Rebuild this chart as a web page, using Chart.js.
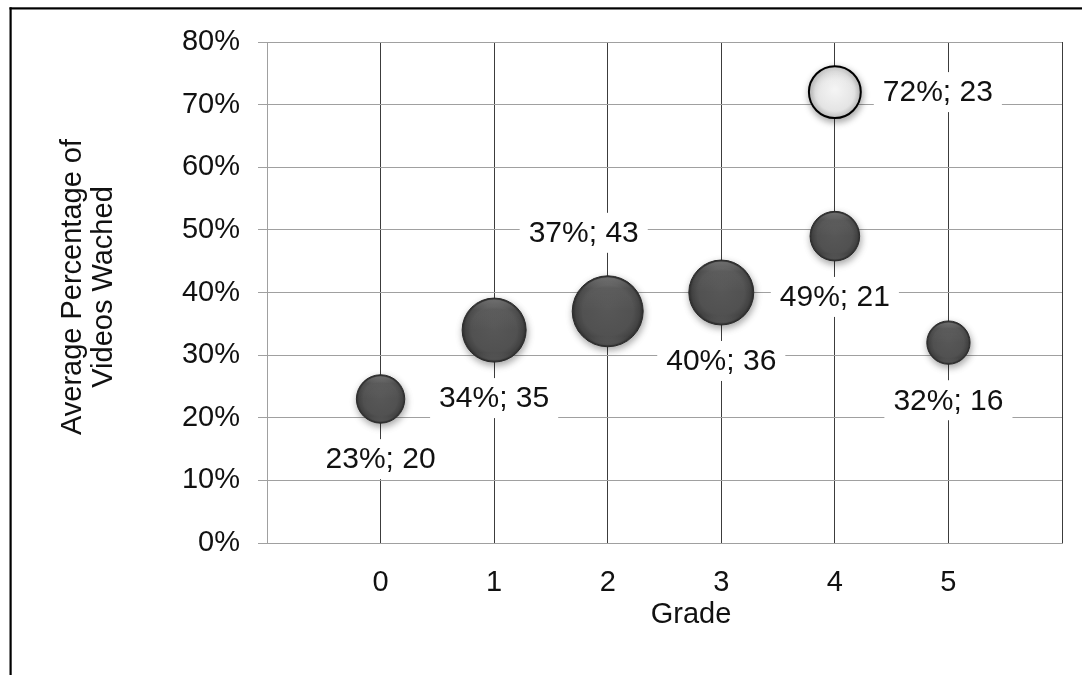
<!DOCTYPE html>
<html>
<head>
<meta charset="utf-8">
<title>Average Percentage of Videos Watched by Grade</title>
<script src="https://cdn.jsdelivr.net/npm/chart.js@4/dist/chart.umd.min.js"></script>
<style>
  html, body { margin: 0; padding: 0; background: #ffffff; }
  #wrap { position: absolute; left: 0; top: 0; width: 1082px; height: 675px; }
</style>
</head>
<body>
<div id="wrap"><canvas id="chart" width="1082" height="675"></canvas></div>
<script>
// Grade levels (x), average percentage of videos watched (y), number of students (bubble size)
const grades       = [0, 1, 2, 3, 4, 5];
const avgWatched   = [23, 34, 37, 40, 49, 32];
const studentCount = [20, 35, 43, 36, 21, 16];

// Separate highlighted group at grade 4
const outlierGrades  = [4];
const outlierWatched = [72];
const outlierCount   = [23];

// Axis tick values
const yTicks = [0, 10, 20, 30, 40, 50, 60, 70, 80];
const xTicks = [0, 1, 2, 3, 4, 5];

// Where each bubble's label sits relative to the bubble
const mainLabelPos      = ['below', 'below', 'above', 'below', 'below', 'below'];
const mainLabelShift    = [0, 0, -24, 0, 0, 0];
const outlierLabelPos   = ['right'];
const outlierLabelShift = [0];

const FONT = '"Liberation Sans", Arial, Helvetica, sans-serif';
const TEXT = '#111111';
const RADIUS_PER_ROOT = 5.41;   // bubble area proportional to student count

function toPoints(xs, ys, ns) {
  return xs.map((x, i) => ({ x: x, y: ys[i], n: ns[i], r: Math.sqrt(ns[i]) * RADIUS_PER_ROOT }));
}

function bubbleFill(light) {
  return function (c) {
    const chart = c.chart;
    const raw = c.raw;
    if (!raw || !chart.chartArea || !chart.scales.x) return light ? '#e6e6e6' : '#505050';
    const x = chart.scales.x.getPixelForValue(raw.x);
    const y = chart.scales.y.getPixelForValue(raw.y);
    const r = raw.r;
    const g = chart.ctx.createRadialGradient(x, y - r * 0.1, r * 0.05, x, y, r);
    if (light) {
      g.addColorStop(0, '#f4f4f4');
      g.addColorStop(0.75, '#e4e4e4');
      g.addColorStop(0.95, '#c8c8c8');
      g.addColorStop(1, '#b0b0b0');
    } else {
      g.addColorStop(0, '#575757');
      g.addColorStop(0.7, '#515151');
      g.addColorStop(0.9, '#444444');
      g.addColorStop(1, '#2e2e2e');
    }
    return g;
  };
}

// Frame lines along the top and left of the figure
const framePlugin = {
  id: 'frame',
  beforeDraw(chart) {
    const ctx = chart.ctx;
    ctx.save();
    ctx.fillStyle = '#ffffff';
    ctx.fillRect(0, 0, chart.width, chart.height);
    ctx.fillStyle = '#000000';
    ctx.fillRect(9.5, 7.3, chart.width - 9.5, 2.2);
    ctx.fillRect(9.5, 7.3, 2.2, chart.height - 7.3);
    ctx.restore();
  }
};

// Soft drop shadow under the bubbles plus a glossy rim highlight
const bubbleShadePlugin = {
  id: 'bubbleShade',
  beforeDatasetDraw(chart) {
    const ctx = chart.ctx;
    ctx.save();
    ctx.shadowColor = 'rgba(0,0,0,0.35)';
    ctx.shadowBlur = 7;
    ctx.shadowOffsetX = 1;
    ctx.shadowOffsetY = 3;
  },
  afterDatasetDraw(chart, args) {
    const ctx = chart.ctx;
    ctx.restore();
    const meta = args.meta;
    meta.data.forEach((el) => {
      const r = el.options.radius;
      ctx.save();
      ctx.beginPath();
      ctx.arc(el.x, el.y, Math.max(r - 1.5, 1), 0, Math.PI * 2);
      ctx.clip();
      const g = ctx.createLinearGradient(0, el.y - r, 0, el.y + r);
      g.addColorStop(0, 'rgba(255,255,255,0.28)');
      g.addColorStop(0.18, 'rgba(255,255,255,0.06)');
      g.addColorStop(0.5, 'rgba(255,255,255,0)');
      g.addColorStop(0.85, 'rgba(255,255,255,0)');
      g.addColorStop(1, 'rgba(255,255,255,0.12)');
      ctx.fillStyle = g;
      ctx.fillRect(el.x - r, el.y - r, r * 2, r * 2);
      ctx.restore();
    });
  }
};

// "pct%; count" labels on white boxes next to each bubble
const valueLabelPlugin = {
  id: 'valueLabels',
  afterDatasetsDraw(chart) {
    const ctx = chart.ctx;
    ctx.save();
    ctx.font = '30px ' + FONT;
    ctx.textAlign = 'center';
    ctx.textBaseline = 'middle';
    chart.data.datasets.forEach((ds, di) => {
      const meta = chart.getDatasetMeta(di);
      meta.data.forEach((el, i) => {
        const p = ds.data[i];
        const text = p.y + '%; ' + p.n;
        const w = ctx.measureText(text).width;
        const r = el.options.radius;
        const pos = ds.labelPos[i];
        let cx = el.x + ds.labelShift[i];
        let cy = el.y;
        if (pos === 'below') cy = el.y + r + 36;
        else if (pos === 'above') cy = el.y - r - 43;
        else if (pos === 'right') cx = el.x + r + 22 + w / 2;
        ctx.fillStyle = '#ffffff';
        ctx.fillRect(cx - w / 2 - 9, cy - 20, w + 18, 40);
        ctx.fillStyle = TEXT;
        ctx.fillText(text, cx, cy + 1);
      });
    });
    ctx.restore();
  }
};

// Axis titles
const axisTitlePlugin = {
  id: 'axisTitles',
  afterDraw(chart) {
    const ctx = chart.ctx;
    ctx.save();
    ctx.fillStyle = TEXT;
    ctx.font = '29px ' + FONT;
    ctx.textAlign = 'center';
    ctx.textBaseline = 'middle';
    ctx.fillText('Grade', 691, 615);
    ctx.translate(88, 287);
    ctx.rotate(-Math.PI / 2);
    ctx.fillText('Average Percentage of', 0, -15.5);
    ctx.fillText('Videos Wached', 0, 15.5);
    ctx.restore();
  }
};

const chart = new Chart(document.getElementById('chart'), {
  type: 'bubble',
  data: {
    datasets: [
      {
        label: 'Grades',
        data: toPoints(grades, avgWatched, studentCount),
        backgroundColor: bubbleFill(false),
        borderColor: '#2a2a2a',
        borderWidth: 1,
        labelPos: mainLabelPos,
        labelShift: mainLabelShift
      },
      {
        label: 'Grade 4 (group B)',
        data: toPoints(outlierGrades, outlierWatched, outlierCount),
        backgroundColor: bubbleFill(true),
        borderColor: '#000000',
        borderWidth: 2,
        labelPos: outlierLabelPos,
        labelShift: outlierLabelShift
      }
    ]
  },
  options: {
    responsive: false,
    animation: false,
    devicePixelRatio: 1,
    layout: { autoPadding: false, padding: { left: 0, top: 42, right: 20, bottom: 0 } },
    plugins: {
      legend: { display: false },
      tooltip: { enabled: false },
      title: { display: false }
    },
    scales: {
      x: {
        type: 'linear',
        min: -1,
        max: 6,
        afterBuildTicks(scale) {
          scale.ticks = [-1].concat(xTicks, [6]).map(v => ({ value: v }));
        },
        afterFit(scale) {
          scale.height = 132;
          scale.paddingLeft = 0;
          scale.paddingRight = 0;
        },
        ticks: {
          font: { family: FONT, size: 29 },
          color: TEXT,
          padding: 23,
          maxRotation: 0,
          autoSkip: false,
          callback: (v) => (xTicks.includes(v) ? String(v) : '')
        },
        grid: {
          drawTicks: false,
          color: (c) => (c.tick && c.tick.value === -1 ? '#a0a0a0' : '#3c3c3c'),
          lineWidth: 1
        },
        border: { display: true, color: '#a0a0a0', width: 1 }
      },
      y: {
        type: 'linear',
        min: 0,
        max: 80,
        afterBuildTicks(scale) {
          scale.ticks = yTicks.map(v => ({ value: v }));
        },
        afterFit(scale) {
          scale.width = 267;
          scale.paddingTop = 0;
          scale.paddingBottom = 0;
        },
        ticks: {
          font: { family: FONT, size: 29 },
          color: TEXT,
          padding: 18,
          callback: (v) => v + '%'
        },
        grid: {
          drawTicks: true,
          tickLength: 9,
          color: '#a0a0a0',
          lineWidth: 1
        },
        border: { display: true, color: '#a0a0a0', width: 1 }
      }
    }
  },
  plugins: [framePlugin, bubbleShadePlugin, valueLabelPlugin, axisTitlePlugin]
});
</script>
</body>
</html>
